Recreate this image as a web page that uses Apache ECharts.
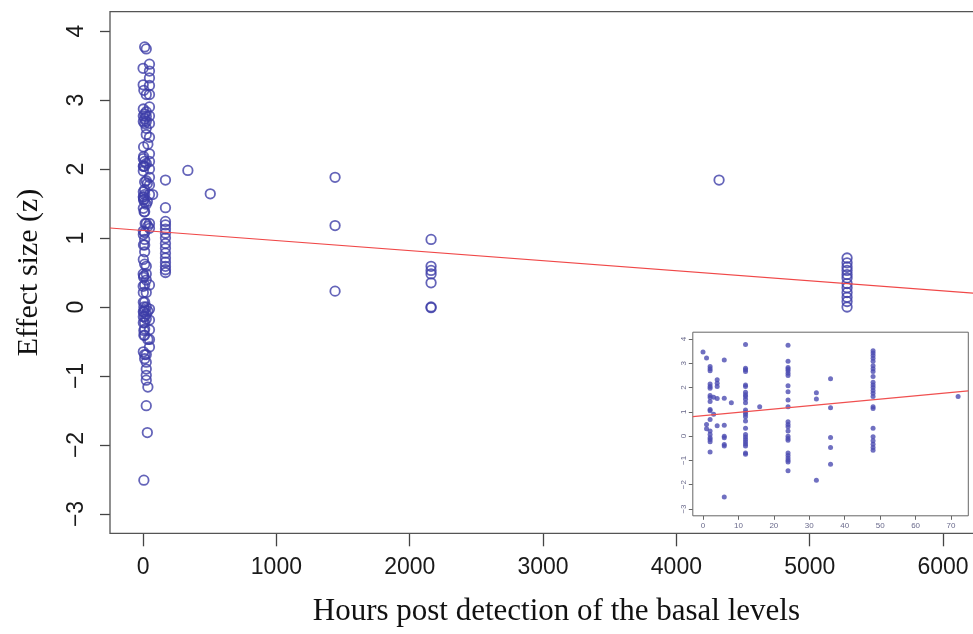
<!DOCTYPE html>
<html><head><meta charset="utf-8">
<script src="https://cdn.jsdelivr.net/npm/echarts@6/dist/echarts.min.js"></script>
<style>html,body{margin:0;padding:0;background:#fff}#c{width:973px;height:634px}</style>
</head><body><div id="c"></div>
<script>
// ---- data ----
const earlyHours = [0, 1, 2, 3, 4, 6, 8, 12, 16, 24, 32, 36, 48, 72];
const earlyEffect = [
  [3.46],
  [3.22, 0.48, 0.30],
  [2.87, 2.77, 2.69, 2.15, 2.04, 1.97, 1.67, 1.59, 1.43, 1.10, 1.05, 0.69, 0.21, 0.07, -0.07, -0.14, -0.23, -0.65],
  [0.90, 1.60],
  [2.32, 2.18, 2.04, 1.55, 0.43],
  [3.14, 1.56, 0.45, 0.00, -0.07, -0.34, -0.41, -2.51],
  [1.38],
  [3.77, 2.80, 2.73, 2.66, 2.11, 2.04, 1.81, 1.70, 1.63, 1.52, 1.38, 1.08, 0.98, 0.90, 0.80, 0.62, 0.32, 0.07, -0.04, -0.14, -0.23, -0.32, -0.41, -0.69, -0.75],
  [1.21],
  [3.74, 3.08, 2.83, 2.76, 2.69, 2.59, 2.50, 2.08, 1.83, 1.49, 1.21, 0.59, 0.48, 0.39, 0.21, 0.00, -0.10, -0.17, -0.69, -0.80, -0.90, -0.99, -1.06, -1.43],
  [1.79, 1.53, -1.82],
  [2.36, 1.17, -0.06, -0.47, -1.16],
  [3.52, 3.42, 3.32, 3.21, 3.08, 2.90, 2.77, 2.66, 2.46, 2.22, 2.11, 2.00, 1.88, 1.77, 1.63, 1.21, 1.14, 0.32, -0.03, -0.19, -0.33, -0.47, -0.58],
  [1.63]
];
const lateHours = [168, 336, 504, 1440, 2160, 4320, 5280];
const lateEffect = [
  [1.84, 1.44, 1.24, 1.19, 1.13, 1.07, 1.00, 0.92, 0.85, 0.78, 0.71, 0.65, 0.59, 0.54, 0.50],
  [1.98],
  [1.64],
  [1.88, 1.18, 0.23],
  [0.98, 0.59, 0.53, 0.48, 0.35, 0.00, -0.01],
  [1.84],
  [0.71, 0.64, 0.58, 0.53, 0.47, 0.42, 0.34, 0.28, 0.21, 0.14, 0.08, 0.00]
];
const mainTicksX = [0, 1000, 2000, 3000, 4000, 5000, 6000];
const mainTicksY = [-3, -2, -1, 0, 1, 2, 3, 4];
const insetTicksX = [0, 10, 20, 30, 40, 50, 60, 70];
const insetTicksY = [-3, -2, -1, 0, 1, 2, 3, 4];
const mainFitHours = [-248, 6448];
const mainFitEffect = [1.145, 0.168];
const insetFitHours = [-2.88, 74.88];
const insetFitEffect = [0.80, 1.86];

// ---- build ----
function pairs(hours, groups) {
  const out = [];
  hours.forEach((h, i) => groups[i].forEach(v => out.push([h, v])));
  return out;
}
const earlyPts = pairs(earlyHours, earlyEffect);
const allPts = earlyPts.concat(pairs(lateHours, lateEffect));
const mainFit = mainFitHours.map((h, i) => [h, mainFitEffect[i]]);
const insetFit = insetFitHours.map((h, i) => [h, insetFitEffect[i]]);

const sans = 'Liberation Sans, Arial, sans-serif';
const serif = 'Liberation Serif, Times New Roman, serif';
const fmt = v => (v < 0 ? '\u2212' + Math.abs(v) : String(v));

const chart = echarts.init(document.getElementById('c'), null, {renderer: 'canvas'});
chart.setOption({
  animation: false,
  backgroundColor: '#fff',
  grid: [
    {left: 110, top: 11.7, width: 892.8, height: 521.6, show: true, borderColor: '#555', borderWidth: 1.3,
     backgroundColor: 'transparent', outerBoundsMode: 'none', containLabel: false, z: 1},
    {left: 692.8, top: 332.2, width: 275.5, height: 183.6, show: true, borderColor: '#666', borderWidth: 1,
     backgroundColor: '#fff', outerBoundsMode: 'none', containLabel: false, z: 3}
  ],
  xAxis: [
    {
      gridIndex: 0, type: 'value', min: -248, max: 6448,
      splitLine: {show: false}, axisLine: {show: false, onZero: false},
      axisTick: {show: true, inside: false, length: 13, customValues: mainTicksX, lineStyle: {color: '#444', width: 1.3}},
      axisLabel: {customValues: mainTicksX, margin: 23, fontFamily: sans, fontSize: 23, color: '#1a1a1a', formatter: fmt},
      name: 'Hours post detection of the basal levels', nameLocation: 'middle', nameGap: 63,
      nameTextStyle: {fontFamily: serif, fontSize: 31, color: '#111'}
    },
    {
      gridIndex: 1, type: 'value', min: -2.88, max: 74.88,
      splitLine: {show: false}, axisLine: {show: false, onZero: false},
      axisTick: {show: true, length: 4, customValues: insetTicksX, lineStyle: {color: '#666', width: 1}},
      axisLabel: {customValues: insetTicksX, margin: 6, fontFamily: sans, fontSize: 8, color: '#6a6a8c', formatter: fmt}
    }
  ],
  yAxis: [
    {
      gridIndex: 0, type: 'value', min: -3.28, max: 4.28,
      splitLine: {show: false}, axisLine: {show: false, onZero: false},
      axisTick: {show: true, length: 10, customValues: mainTicksY, lineStyle: {color: '#444', width: 1.3}},
      axisLabel: {customValues: mainTicksY, rotate: 90, margin: 22, fontFamily: sans, fontSize: 23, color: '#1a1a1a', formatter: fmt},
      name: 'Effect size (z)', nameLocation: 'middle', nameGap: 66, nameRotate: 90,
      nameTextStyle: {fontFamily: serif, fontSize: 30, color: '#111'}
    },
    {
      gridIndex: 1, type: 'value', min: -3.28, max: 4.28,
      splitLine: {show: false}, axisLine: {show: false, onZero: false},
      axisTick: {show: true, length: 4, customValues: insetTicksY, lineStyle: {color: '#666', width: 1}},
      axisLabel: {customValues: insetTicksY, rotate: 90, margin: 5, fontFamily: sans, fontSize: 8, color: '#6a6a8c', formatter: fmt}
    }
  ],
  series: [
    {
      type: 'scatter', xAxisIndex: 0, yAxisIndex: 0, data: allPts, symbol: 'circle', symbolSize: 9.5,
      itemStyle: {color: 'rgba(0,0,0,0)', borderColor: '#3d3da8', borderWidth: 1.8}, z: 2
    },
    {
      type: 'line', xAxisIndex: 0, yAxisIndex: 0, data: mainFit, showSymbol: false, symbol: 'none',
      lineStyle: {color: '#f04848', width: 1.2}, z: 3
    },
    {
      type: 'scatter', xAxisIndex: 1, yAxisIndex: 1, data: earlyPts, symbol: 'circle', symbolSize: 5,
      itemStyle: {color: '#4c4cb2'}, z: 5
    },
    {
      type: 'line', xAxisIndex: 1, yAxisIndex: 1, data: insetFit, showSymbol: false, symbol: 'none',
      lineStyle: {color: '#f05050', width: 1.2}, z: 6
    }
  ]
});
</script>
</body></html>
